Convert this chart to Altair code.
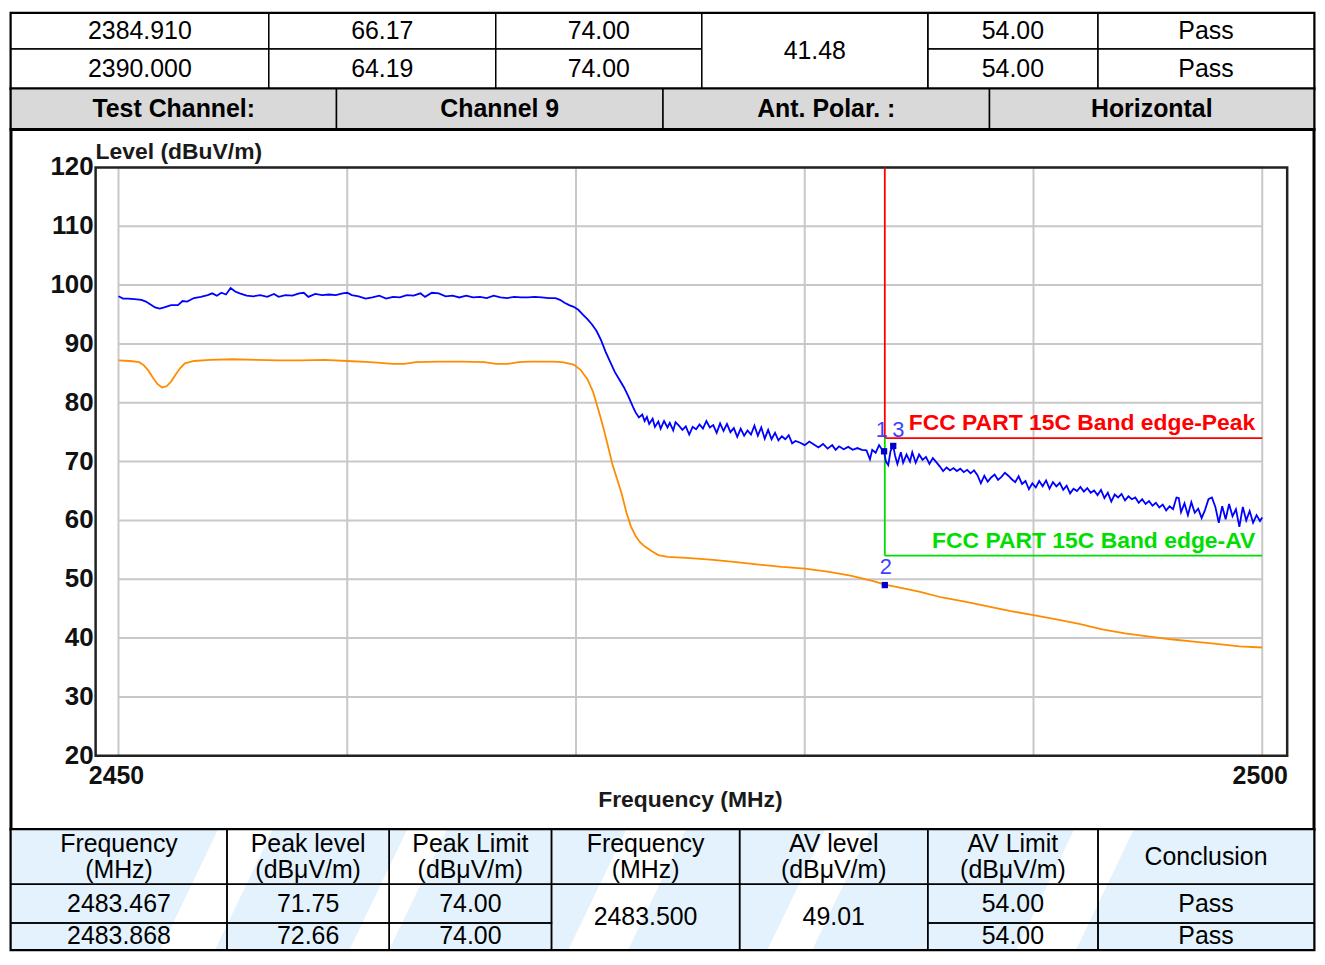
import altair as alt
import pandas as pd

# ---------------- table contents ----------------
top_freq = ["2384.910", "2390.000"]
top_peak = ["66.17", "64.19"]
top_peak_limit = ["74.00", "74.00"]
top_av_level = "41.48"
top_av_limit = ["54.00", "54.00"]
top_result = ["Pass", "Pass"]

info_row = ["Test Channel:", "Channel 9", "Ant. Polar. :", "Horizontal"]

bottom_headers = ["Frequency\n(MHz)", "Peak level\n(dBμV/m)", "Peak Limit\n(dBμV/m)",
                  "Frequency\n(MHz)", "AV level\n(dBμV/m)", "AV Limit\n(dBμV/m)", "Conclusion"]
peak_freq = [2483.467, 2483.868]
peak_level = [71.75, 72.66]
peak_limit = [74.00, 74.00]
av_freq = 2483.500
av_level = 49.01
av_limit = [54.00, 54.00]
result = ["Pass", "Pass"]

# ---------------- limits / axes ----------------
band_edge = 2483.5
band_stop = 2500.0
peak_limit_db = 74.0
av_limit_db = 54.0
plot_top_db = 120.0
plot_bottom_db = 20.0
freq_labels = [2450, 2500]
freq_grid = [2450, 2460, 2470, 2480, 2490, 2500]
level_ticks = [20, 30, 40, 50, 60, 70, 80, 90, 100, 110, 120]

# ---------------- traces ----------------
blue_freq = [
    2450.0, 2450.2, 2450.4, 2450.7, 2451.0, 2451.2, 2451.4, 2451.6, 2451.8, 2452.0,
    2452.3, 2452.6, 2452.8, 2453.0, 2453.3, 2453.6, 2453.9, 2454.1, 2454.3, 2454.5,
    2454.7, 2454.9, 2455.1, 2455.3, 2455.6, 2455.9, 2456.2, 2456.5, 2456.8, 2457.0,
    2457.3, 2457.6, 2457.9, 2458.1, 2458.3, 2458.6, 2458.9, 2459.2, 2459.5, 2459.8,
    2460.0, 2460.2, 2460.5, 2460.8, 2461.1, 2461.4, 2461.7, 2462.0, 2462.3, 2462.6,
    2462.9, 2463.2, 2463.4, 2463.7, 2464.0, 2464.3, 2464.6, 2464.9, 2465.2, 2465.5,
    2465.8, 2466.1, 2466.4, 2466.7, 2467.0, 2467.3, 2467.6, 2467.9, 2468.2, 2468.5,
    2468.8, 2469.1, 2469.3, 2469.5, 2469.7, 2469.9, 2470.1, 2470.3, 2470.5, 2470.7,
    2470.9, 2471.1, 2471.3, 2471.5, 2471.7, 2471.9, 2472.1, 2472.3, 2472.5, 2472.6,
    2472.75, 2472.9, 2473.0, 2473.1, 2473.2, 2473.35, 2473.45, 2473.6, 2473.7, 2473.85,
    2474.0, 2474.1, 2474.25, 2474.35, 2474.5, 2474.65, 2474.8, 2474.95, 2475.1, 2475.25,
    2475.4, 2475.55, 2475.7, 2475.85, 2476.0, 2476.15, 2476.3, 2476.45, 2476.6, 2476.75,
    2476.9, 2477.05, 2477.2, 2477.35, 2477.5, 2477.65, 2477.8, 2477.95, 2478.1, 2478.25,
    2478.4, 2478.55, 2478.7, 2478.85, 2479.0, 2479.15, 2479.3, 2479.45, 2479.6, 2479.8,
    2480.0, 2480.2, 2480.4, 2480.6, 2480.8, 2481.0, 2481.2, 2481.35, 2481.5, 2481.7,
    2481.9, 2482.1, 2482.3, 2482.5, 2482.7, 2482.85, 2482.95, 2483.1, 2483.25, 2483.4,
    2483.467, 2483.55, 2483.65, 2483.75, 2483.868, 2483.95, 2484.05, 2484.2, 2484.3, 2484.45,
    2484.6, 2484.7, 2484.85, 2485.0, 2485.15, 2485.3, 2485.45, 2485.6, 2485.75, 2485.9,
    2486.05, 2486.2, 2486.35, 2486.5, 2486.65, 2486.8, 2486.95, 2487.1, 2487.25, 2487.4,
    2487.55, 2487.7, 2487.85, 2488.0, 2488.15, 2488.3, 2488.45, 2488.6, 2488.75, 2488.9,
    2489.05, 2489.2, 2489.35, 2489.5, 2489.65, 2489.8, 2489.95, 2490.1, 2490.25, 2490.4,
    2490.55, 2490.7, 2490.85, 2491.0, 2491.15, 2491.3, 2491.45, 2491.6, 2491.75, 2491.9,
    2492.05, 2492.2, 2492.35, 2492.5, 2492.65, 2492.8, 2492.95, 2493.1, 2493.25, 2493.4,
    2493.55, 2493.7, 2493.85, 2494.0, 2494.15, 2494.3, 2494.45, 2494.6, 2494.75, 2494.9,
    2495.05, 2495.2, 2495.35, 2495.5, 2495.65, 2495.8, 2495.95, 2496.1, 2496.25, 2496.35,
    2496.45, 2496.6, 2496.75, 2496.9, 2497.05, 2497.2, 2497.35, 2497.5, 2497.65, 2497.8,
    2497.95, 2498.1, 2498.25, 2498.4, 2498.55, 2498.7, 2498.85, 2499.0, 2499.15, 2499.3,
    2499.45, 2499.6, 2499.75, 2499.9, 2500.0,
]
blue_level = [
    98.1, 97.7, 97.7, 97.6, 97.5, 97.2, 96.7, 96.2, 96.0, 96.2,
    96.6, 96.6, 97.3, 97.2, 97.8, 98.0, 98.3, 98.6, 98.2, 98.7,
    98.4, 99.5, 98.9, 98.6, 98.2, 98.1, 98.3, 98.0, 98.5, 98.0,
    98.3, 98.2, 98.6, 98.7, 98.0, 98.5, 98.3, 98.4, 98.3, 98.6,
    98.7, 98.3, 98.1, 97.7, 97.9, 98.2, 97.7, 98.0, 97.9, 98.3,
    98.2, 98.6, 98.0, 98.7, 98.6, 98.1, 98.2, 97.9, 98.2, 97.9,
    98.0, 97.8, 98.2, 97.9, 97.8, 98.0, 97.9, 97.9, 98.0, 97.9,
    97.8, 97.8, 97.5, 97.0, 96.6, 96.3, 95.8, 95.0, 94.2, 93.3,
    92.2, 90.6, 88.6, 86.9, 85.2, 83.9, 82.6, 81.0, 79.2, 78.4,
    77.5, 78.0, 76.9, 77.6, 76.4, 77.3, 75.9, 76.8, 75.6, 76.9,
    75.8, 76.6, 75.3, 76.7, 76.1, 75.4, 76.0, 74.6, 75.9, 75.5,
    76.3, 75.6, 76.9, 75.8, 76.2, 74.9, 76.5, 75.2, 76.4, 75.0,
    75.7, 74.2, 75.6, 74.4, 75.3, 74.6, 76.1, 74.4, 75.8, 73.9,
    75.4, 73.8, 74.9, 73.6, 74.3, 73.8, 74.5, 73.1, 73.5, 73.2,
    72.8, 73.4, 72.9, 72.4, 73.0, 72.2, 72.8, 72.0, 72.6, 72.1,
    72.5, 72.0, 72.3, 72.0, 71.9, 70.4, 72.0, 71.5, 72.8, 71.9,
    71.75, 70.0, 69.4, 71.8, 72.66, 71.0, 69.6, 71.6, 69.8, 71.2,
    70.0, 71.6, 69.8, 71.2, 70.3, 70.8, 69.6, 70.6, 69.9, 69.2,
    68.4, 69.0, 68.5, 68.9, 68.4, 68.8, 68.2, 68.6, 68.0, 68.5,
    67.7, 66.3, 67.6, 66.6, 67.3, 67.8, 66.9, 67.4, 68.1, 67.6,
    67.0, 66.5, 67.5, 66.2, 66.7, 65.3, 66.3, 65.6, 66.7, 65.8,
    66.8, 65.4, 66.5, 65.8, 66.4, 65.2, 65.9, 64.6, 65.4, 65.0,
    65.7, 64.9, 65.5, 64.7, 65.1, 64.3, 65.2, 63.8, 64.7, 63.2,
    64.4, 63.9, 64.5, 63.4, 64.1, 63.6, 63.9, 63.0, 63.6, 62.8,
    63.3, 62.5, 63.0, 62.2, 62.7, 61.7, 62.4, 61.9, 63.9, 63.8,
    61.4, 62.9, 60.9, 63.1, 61.3, 62.0, 60.4, 61.8, 63.6, 63.9,
    62.3, 59.6, 62.4, 60.2, 62.8, 60.7, 61.9, 58.9, 62.3, 60.0,
    61.6, 59.6, 60.9, 59.9, 60.5,
]
orange_freq = [
    2450.0, 2450.5, 2450.9, 2451.1, 2451.3, 2451.5, 2451.7, 2451.9, 2452.1, 2452.3,
    2452.5, 2452.7, 2452.9, 2453.3, 2454.0, 2455.0, 2456.0, 2457.0, 2458.0, 2459.0,
    2460.0, 2461.0, 2462.0, 2462.5, 2463.0, 2464.0, 2465.0, 2466.0, 2466.5, 2467.0,
    2467.5, 2468.0, 2469.0, 2469.4, 2469.9, 2470.2, 2470.5, 2470.75, 2471.0, 2471.2,
    2471.4, 2471.6, 2471.8, 2472.0, 2472.2, 2472.4, 2472.6, 2472.8, 2473.0, 2473.3,
    2473.6, 2474.0, 2475.0, 2476.0, 2477.0, 2478.0, 2479.0, 2480.0, 2481.0, 2482.0,
    2483.0, 2483.5, 2484.0, 2485.0, 2486.0, 2487.0, 2488.0, 2489.0, 2490.0, 2491.0,
    2492.0, 2493.0, 2494.0, 2495.0, 2496.0, 2497.0, 2498.0, 2499.0, 2500.0,
]
orange_level = [
    87.2, 87.1, 86.9, 86.4, 85.5, 84.3, 83.2, 82.6, 82.8, 83.6,
    84.8, 85.9, 86.7, 87.1, 87.3, 87.4, 87.3, 87.2, 87.2, 87.3,
    87.1, 86.9, 86.6, 86.6, 86.9, 87.0, 87.0, 86.9, 86.6, 86.6,
    86.9, 87.0, 87.0, 86.9, 86.5, 85.6, 84.0, 81.8, 78.5, 75.7,
    72.6, 69.4, 67.0, 64.5, 61.4, 59.0, 57.4, 56.3, 55.6, 54.8,
    54.1, 53.8, 53.6, 53.3, 52.9, 52.5, 52.1, 51.8, 51.3, 50.6,
    49.7, 49.1, 48.7, 47.9, 46.9, 46.2, 45.4, 44.6, 43.9, 43.2,
    42.4, 41.5, 40.8, 40.3, 39.8, 39.4, 39.0, 38.6, 38.4,
]

# ---------------- layout (pixels) ----------------
W = 1309
FONT = "Liberation Sans"
LINE_H = 26
top_cols = [0, 259, 487, 694, 921, 1092, 1309]
top_rows = [0, 36, 76]
info_cols = [0, 327, 655, 983, 1309]
info_rows = [0, 41]
bot_cols = [0, 217, 380, 543, 732, 921, 1092, 1309]
bot_rows = [0, 55, 94, 121]
PLOT_H = 703
# plot-area scales: the panel spans the whole width; 2450..2500 occupies 108..1257 px
x_dom = [2445.3003, 2502.2628]
y_dom = [7.48, 126.43]
frame_x = [2449.0, 2501.09]


def cells(specs, cols, rows):
    out = []
    for text, c0, c1, r0, r1 in specs:
        n = text.count("\n") + 1
        out.append(dict(text=text, x=cols[c0], x2=cols[c1], y=rows[r0], y2=rows[r1],
                        xm=(cols[c0] + cols[c1]) / 2,
                        ym=(rows[r0] + rows[r1]) / 2 - (n - 1) * LINE_H / 2))
    return pd.DataFrame(out)


def table(df, height, fill, weight, size, fill_opacity=1.0, under=None):
    xs = alt.Scale(domain=[0, W], nice=False, zero=False)
    ys = alt.Scale(domain=[0, height], nice=False, zero=False, reverse=True)
    rect = alt.Chart(df).mark_rect(stroke="black", strokeWidth=1.5, fill=fill,
                                   fillOpacity=fill_opacity).encode(
        x=alt.X("x:Q", scale=xs, axis=None), x2="x2:Q",
        y=alt.Y("y:Q", scale=ys, axis=None), y2="y2:Q")
    txt = alt.Chart(df).mark_text(font=FONT, fontSize=size, fontWeight=weight, color="black",
                                  lineBreak="\n", lineHeight=LINE_H, align="center",
                                  baseline="middle").encode(
        x=alt.X("xm:Q", scale=xs, axis=None), y=alt.Y("ym:Q", scale=ys, axis=None),
        text="text:N")
    layers = ([under(xs, ys)] if under else []) + [rect, txt]
    return alt.layer(*layers).properties(width=W, height=height)


top_specs = []
for i in range(2):
    top_specs += [(top_freq[i], 0, 1, i, i + 1), (top_peak[i], 1, 2, i, i + 1),
                  (top_peak_limit[i], 2, 3, i, i + 1), (top_av_limit[i], 4, 5, i, i + 1),
                  (top_result[i], 5, 6, i, i + 1)]
top_specs.append((top_av_level, 3, 4, 0, 2))
p_top = table(cells(top_specs, top_cols, top_rows), top_rows[-1], "white", "normal", 25)

info_specs = [(t, i, i + 1, 0, 1) for i, t in enumerate(info_row)]
p_info = table(cells(info_specs, info_cols, info_rows), info_rows[-1], "#d9d9d9", "bold", 25)

bot_specs = [(h, i, i + 1, 0, 1) for i, h in enumerate(bottom_headers)]
for i in range(2):
    bot_specs += [(f"{peak_freq[i]:.3f}", 0, 1, i + 1, i + 2), (f"{peak_level[i]:.2f}", 1, 2, i + 1, i + 2),
                  (f"{peak_limit[i]:.2f}", 2, 3, i + 1, i + 2), (f"{av_limit[i]:.2f}", 5, 6, i + 1, i + 2),
                  (result[i], 6, 7, i + 1, i + 2)]
bot_specs += [(f"{av_freq:.3f}", 3, 4, 1, 3), (f"{av_level:.2f}", 4, 5, 1, 3)]

# light-blue watermark behind the lower table
stripe_x = [150, 340, 560, 760, 1010]
stripe_w = [55, 40, 60, 45, 60]


def watermark(xs, ys):
    base = pd.DataFrame({"x": [0], "x2": [W], "y": [0], "y2": [bot_rows[-1]]})
    b = alt.Chart(base).mark_rect(fill="#e3f2fc").encode(
        x=alt.X("x:Q", scale=xs, axis=None), x2="x2:Q",
        y=alt.Y("y:Q", scale=ys, axis=None), y2="y2:Q")
    rows = []
    for k, (a, w) in enumerate(zip(stripe_x, stripe_w)):
        rows.append(dict(s=k, y=bot_rows[-1], x=a, x2=a + w))
        rows.append(dict(s=k, y=0, x=a + 58, x2=a + 58 + w))
    s = alt.Chart(pd.DataFrame(rows)).mark_area(orient="horizontal", color="white").encode(
        y=alt.Y("y:Q", scale=ys, axis=None), x=alt.X("x:Q", scale=xs, axis=None), x2="x2:Q",
        detail="s:N")
    return alt.layer(b, s)


p_bot = table(cells(bot_specs, bot_cols, bot_rows), bot_rows[-1], "white", "normal", 25,
              fill_opacity=0, under=watermark)

# ---------------- main plot panel ----------------
xs = alt.Scale(domain=x_dom, nice=False, zero=False)
ys = alt.Scale(domain=y_dom, nice=False, zero=False)


def X(f):
    return alt.X(f, type="quantitative", scale=xs, axis=None)


def Y(f):
    return alt.Y(f, type="quantitative", scale=ys, axis=None)


vgrid = alt.Chart(pd.DataFrame({"f": freq_grid, "lo": plot_bottom_db, "hi": plot_top_db})).mark_rule(
    color="#c8c8c8", strokeWidth=2).encode(x=X("f"), y=Y("lo"), y2="hi:Q")
hgrid = alt.Chart(pd.DataFrame({"l": level_ticks, "a": freq_grid[0], "b": freq_grid[-1]})).mark_rule(
    color="#c8c8c8", strokeWidth=2).encode(y=Y("l"), x=X("a"), x2="b:Q")
frame = alt.Chart(pd.DataFrame({"a": [frame_x[0]], "b": [frame_x[1]], "lo": [plot_bottom_db],
                                "hi": [plot_top_db]})).mark_rect(
    fillOpacity=0, stroke="#222222", strokeWidth=2.5).encode(x=X("a"), x2="b:Q", y=Y("lo"), y2="hi:Q")

# tick labels
ylabels = alt.Chart(pd.DataFrame({"l": level_ticks, "x": frame_x[0]})).mark_text(
    font=FONT, fontSize=26, fontWeight="bold", color="#111111", align="right",
    baseline="middle", dx=-2).encode(x=X("x"), y=Y("l"), text=alt.Text("l:Q", format="d"))
xlabels = alt.Chart(pd.DataFrame({"f": freq_labels, "y": plot_bottom_db})).mark_text(
    font=FONT, fontSize=25, fontWeight="bold", color="#111111", align="center",
    baseline="middle", dy=20, dx=-2).encode(x=X("f"), y=Y("y"), text=alt.Text("f:Q", format="d"))

seg = pd.DataFrame({
    "a": [band_edge, band_edge, band_edge, band_edge],
    "b": [band_edge, band_stop, band_edge, band_stop],
    "lo": [plot_top_db, peak_limit_db, peak_limit_db, av_limit_db],
    "hi": [peak_limit_db, peak_limit_db, av_limit_db, av_limit_db],
    "c": ["#ff0000", "#ff0000", "#00dd00", "#00dd00"],
})
limits = alt.Chart(seg).mark_rule(strokeWidth=1.8).encode(
    x=X("a"), x2="b:Q", y=Y("lo"), y2="hi:Q", color=alt.Color("c:N", scale=None))

orange = alt.Chart(pd.DataFrame({"freq": orange_freq, "level": orange_level})).mark_line(
    color="#ff8c00", strokeWidth=1.8).encode(x=X("freq"), y=Y("level"))
blue = alt.Chart(pd.DataFrame({"freq": blue_freq, "level": blue_level})).mark_line(
    color="#0000ff", strokeWidth=1.8).encode(x=X("freq"), y=Y("level"))

mk = pd.DataFrame({"freq": peak_freq + [av_freq], "level": peak_level + [av_level],
                   "lab": ["1", "3", "2"]})
marks = alt.Chart(mk).mark_square(size=40, color="#0000cc", opacity=1).encode(x=X("freq"), y=Y("level"))
lab_style = dict(font=FONT, fontSize=22, color="#3f3fff", baseline="middle")
mlab1 = alt.Chart(mk).transform_filter(alt.datum.lab == "1").mark_text(
    align="right", dx=4, dy=-21, **lab_style).encode(x=X("freq"), y=Y("level"), text="lab:N")
mlab3 = alt.Chart(mk).transform_filter(alt.datum.lab == "3").mark_text(
    align="left", dx=-1, dy=-16, **lab_style).encode(x=X("freq"), y=Y("level"), text="lab:N")
mlab2 = alt.Chart(mk).transform_filter(alt.datum.lab == "2").mark_text(
    align="center", dx=1, dy=-18, **lab_style).encode(x=X("freq"), y=Y("level"), text="lab:N")

ann = pd.DataFrame({"x": [band_stop, band_stop], "y": [peak_limit_db, av_limit_db],
                    "t": ["FCC PART 15C Band edge-Peak", "FCC PART 15C Band edge-AV"],
                    "c": ["#ff0000", "#00dd00"]})
ann_txt = alt.Chart(ann).mark_text(font=FONT, fontSize=23, fontWeight="bold", align="right",
                                   baseline="bottom", dx=-7, dy=-3).encode(
    x=X("x"), y=Y("y"), text="t:N", color=alt.Color("c:N", scale=None))

titles = pd.DataFrame({"x": [frame_x[0], 2475.0], "y": [122.7, 12.4],
                       "t": ["Level (dBuV/m)", "Frequency (MHz)"]})
ylab = alt.Chart(titles.iloc[[0]]).mark_text(font=FONT, fontSize=23, fontWeight="bold",
                                             color="#1a1a1a", align="left", baseline="middle").encode(
    x=X("x"), y=Y("y"), text="t:N")
xlab = alt.Chart(titles.iloc[[1]]).mark_text(font=FONT, fontSize=23, fontWeight="bold",
                                             color="#1a1a1a", align="center", baseline="middle").encode(
    x=X("x"), y=Y("y"), text="t:N")

p_plot = alt.layer(vgrid, hgrid, frame, limits, orange, blue, marks, mlab1, mlab3, mlab2, ann_txt,
                   ylabels, xlabels, ylab, xlab).properties(width=W, height=PLOT_H)

chart = alt.vconcat(p_top, p_info, p_plot, p_bot, spacing=0, bounds="flush").properties(
    padding=0, background="white"
).configure_view(stroke="black", strokeWidth=3)

chart.save("out.html", embed_options={"renderer": "svg", "actions": False})
